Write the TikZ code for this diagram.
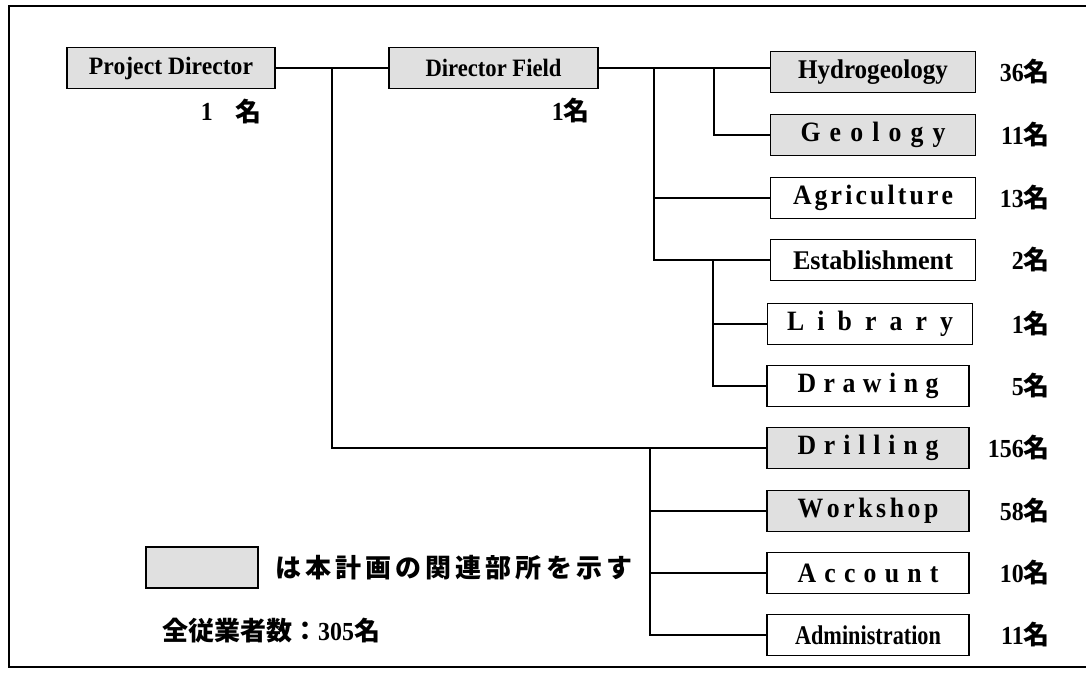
\documentclass[tikz,border=0pt]{standalone}
\usepackage{fontspec}
\usepackage{graphicx}
\setmainfont{Liberation Serif}
\newfontfamily\lbl[FakeStretch=0.92]{Liberation Serif Bold}
\newfontfamily\cjk{Noto Sans CJK JP}
\definecolor{shade}{gray}{0.88}
\newcommand{\fitw}[2]{\resizebox{#1}{\height}{#2}}
\begin{document}
\begin{tikzpicture}[x=1pt,y=-1pt,
  unit/.style={draw, line width=1.8pt, minimum height=41pt, inner sep=0pt,
    font=\fontsize{27}{29}\selectfont\lbl},
  hl/.style={unit, fill=shade},
  plain/.style={unit, fill=white},
  big/.style={font=\fontsize{28}{30}\selectfont\lbl},
  small/.style={font=\fontsize{25}{27}\selectfont\lbl},
  link/.style={line width=1.3pt},
  cnt/.style={anchor=east, inner sep=0pt, font=\fontsize{26}{28}\selectfont\lbl},
  note/.style={inner sep=0pt}]
\useasboundingbox (0,0) rectangle (1086,677);
% frame
\draw[line width=1.4pt] (1086,6) -- (9,6) -- (9,667) -- (1086,667);

% top boxes
\node[hl, small, minimum width=208pt] (pd) at (171,68) {\fitw{164pt}{Project Director}};
\node[hl, small, minimum width=209pt] (df) at (493.5,68) {\fitw{136pt}{Director Field}};

% right column
\node[hl, minimum width=205pt] (hyd) at (873,72) {\fitw{150pt}{Hydrogeology}};
\node[hl, big, minimum width=205pt] (geo) at (873,135) {\makebox[145pt]{G\hfill e\hfill o\hfill l\hfill o\hfill g\hfill y}};
\node[plain, big, minimum width=205pt] (agr) at (873,198) {\makebox[160pt]{A\hfill g\hfill r\hfill i\hfill c\hfill u\hfill l\hfill t\hfill u\hfill r\hfill e}};
\node[plain, minimum width=205pt] (est) at (873,260) {\fitw{160pt}{Establishment}};
\node[plain, big, minimum width=205pt] (lib) at (870,324) {\makebox[166pt]{L\hfill i\hfill b\hfill r\hfill a\hfill r\hfill y}};
\node[plain, big, minimum width=202pt] (dra) at (868,386) {\makebox[141pt]{D\hfill r\hfill a\hfill w\hfill i\hfill n\hfill g}};
\node[hl, big, minimum width=202pt] (dri) at (868,448) {\makebox[141pt]{D\hfill r\hfill i\hfill l\hfill l\hfill i\hfill n\hfill g}};
\node[hl, big, minimum width=202pt] (wor) at (868,511) {\makebox[141pt]{W\hfill o\hfill r\hfill k\hfill s\hfill h\hfill o\hfill p}};
\node[plain, big, minimum width=202pt] (acc) at (868,573) {\makebox[141pt]{A\hfill c\hfill c\hfill o\hfill u\hfill n\hfill t}};
\node[plain, minimum width=202pt] (adm) at (868,635) {\fitw{146pt}{Administration}};

% counts
\node[cnt] (cpd1) at (213,112) {1};
\node[cnt] (cpd2) at (262,112) {\cjk\bfseries 名};
\node[cnt] (cdf) at (590,111) {1{\cjk\bfseries 名}};
\node[cnt] (c1) at (1050,72) {36{\cjk\bfseries 名}};
\node[cnt] (c2) at (1050,135) {11{\cjk\bfseries 名}};
\node[cnt] (c3) at (1050,198) {13{\cjk\bfseries 名}};
\node[cnt] (c4) at (1050,260) {2{\cjk\bfseries 名}};
\node[cnt] (c5) at (1050,324) {1{\cjk\bfseries 名}};
\node[cnt] (c6) at (1050,386) {5{\cjk\bfseries 名}};
\node[cnt] (c7) at (1050,448) {156{\cjk\bfseries 名}};
\node[cnt] (c8) at (1050,511) {58{\cjk\bfseries 名}};
\node[cnt] (c9) at (1050,573) {10{\cjk\bfseries 名}};
\node[cnt] (c10) at (1050,635) {11{\cjk\bfseries 名}};

% connectors
\draw[link] (pd.east) -- (df.west);
\coordinate (j1) at (pd.east -| 332,0);
\draw[link] (j1) |- (dri.west);
\draw[link] (df.east) -- (df.east -| hyd.west);
\coordinate (j2) at (df.east -| 654,0);
\draw[link] (j2) |- (agr.west);
\draw[link] (j2) |- (est.west);
\coordinate (j3) at (df.east -| 714,0);
\draw[link] (j3) |- (geo.west);
\coordinate (j4) at (est.west -| 713,0);
\draw[link] (j4) |- (lib.west);
\draw[link] (j4) |- (dra.west);
\coordinate (j5) at (dri.west -| 650,0);
\draw[link] (j5) |- (wor.west);
\draw[link] (j5) |- (acc.west);
\draw[link] (j5) |- (adm.west);

% legend
\node[hl, minimum width=112pt, minimum height=41pt] (leg) at (202,567.5) {};
\node[note, anchor=west, font=\fontsize{26}{28}\selectfont\cjk\bfseries] (legt) at (275,568)
  {\makebox[357pt]{は\hfill 本\hfill 計\hfill 画\hfill の\hfill 関\hfill 連\hfill 部\hfill 所\hfill を\hfill 示\hfill す}};
\node[note, anchor=west, font=\fontsize{26}{28}\selectfont] (tot) at (162,631)
  {{\cjk\bfseries 全従業者数：}{\lbl 305}{\cjk\bfseries 名}};
\end{tikzpicture}
\end{document}
